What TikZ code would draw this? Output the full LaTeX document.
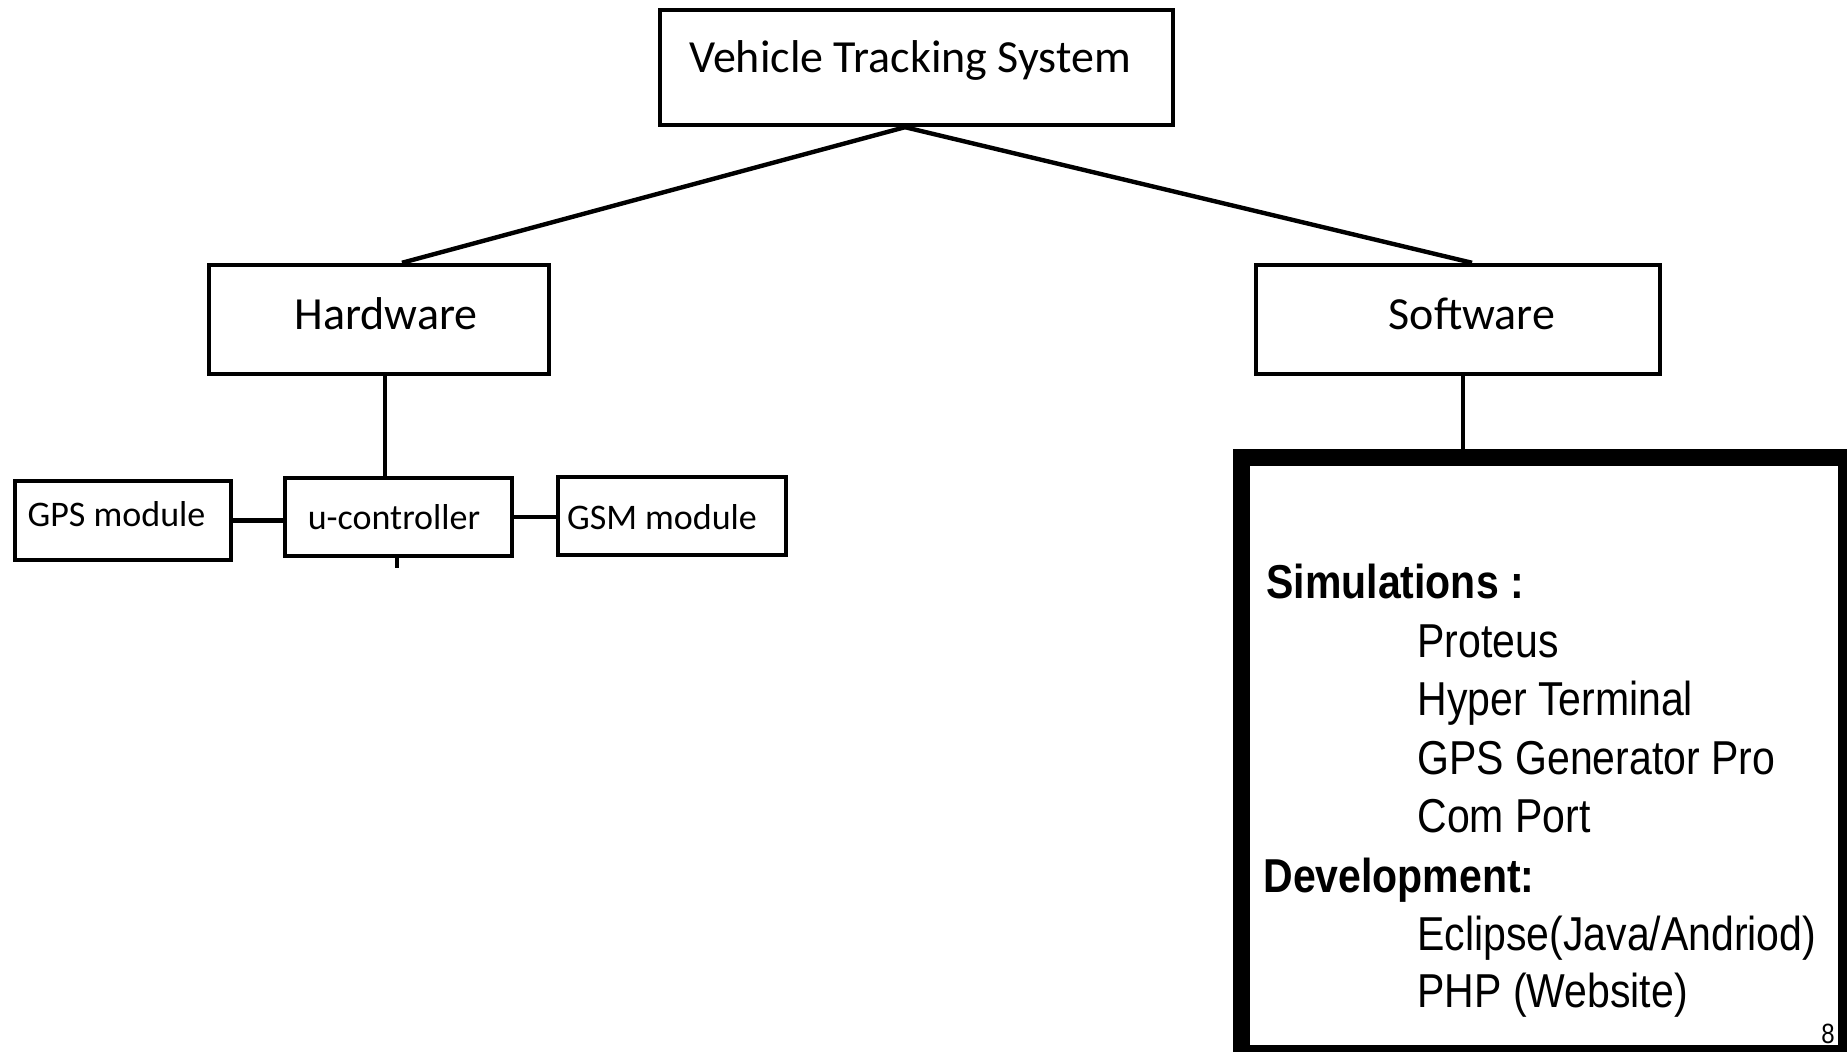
\documentclass[tikz,border=0pt]{standalone}
\usepackage{fontspec}
\newfontfamily\calfont{Carlito}
\newfontfamily\arfont{Liberation Sans}
\newcommand\vst[1]{\scalebox{1}[1.16]{#1}}
\begin{document}
\begin{tikzpicture}[x=0.5pt,y=-0.5pt,
  box/.style={draw=black, line width=2.2pt, fill=white, inner sep=0pt,
    font=\calfont\fontsize{23}{27}\selectfont},
  smallbox/.style={box, font=\calfont\fontsize{18}{22}\selectfont},
  conn/.style={draw=black, line width=2.2pt},
  bigbox/.style={draw=black, line width=8.5pt, inner sep=0pt},
  head/.style={font=\arfont\bfseries\fontsize{20.5}{24}\selectfont, inner sep=0pt, anchor=base west},
  item/.style={font=\arfont\fontsize{20.5}{24}\selectfont, inner sep=0pt, anchor=base west},
  pgnum/.style={font=\arfont\fontsize{12}{14}\selectfont, inner sep=0pt, anchor=base west},
]
\useasboundingbox (0,0) rectangle (1847,1052);
\clip (0,0) rectangle (1847,1052);
\fill[white] (0,0) rectangle (1847,1052);

% top level
\node[box, minimum width=256.5pt, minimum height=57.5pt, text height=14pt, text depth=8.5pt]
  (top) at (916.5,67.5) {Vehicle Tracking System\hspace*{6.5pt}};

% second level
\node[box, minimum width=170pt, minimum height=54.5pt, text height=15pt, text depth=4.5pt]
  (hw) at (379,319.5) {\hspace*{7pt}Hardware};
\node[box, minimum width=202pt, minimum height=54.5pt, text height=15pt, text depth=4.5pt]
  (sw) at (1458,319.5) {\hspace*{14pt}Software};

% hardware row
\node[smallbox, minimum width=108pt, minimum height=39.5pt, text height=11.5pt, text depth=5pt]
  (gps) at (123,520.5) {GPS module\hspace*{6.5pt}};
\node[smallbox, minimum width=113.5pt, minimum height=39pt, text height=13pt, text depth=0pt]
  (uc) at (398.5,517) {u-controller\hspace*{4.5pt}};
\node[smallbox, minimum width=114pt, minimum height=39pt, text height=14pt, text depth=0pt]
  (gsm) at (672,516) {GSM module\hspace*{10pt}};

% software contents
\node[head] (sim) at (1266,599) {\vst{Simulations :}};
\node[item] (s1) at (1417,658) {\vst{Proteus}};
\node[item] (s2) at (1417,716) {\vst{Hyper Terminal}};
\node[item] (s3) at (1417,775) {\vst{GPS Generator Pro}};
\node[item] (s4) at (1417,833) {\vst{Com Port}};
\node[head] (dev) at (1263,892) {\vst{Development:}};
\node[item] (d1) at (1417,950) {\vst{Eclipse(Java/Andriod)}};
\node[item] (d2) at (1417,1007) {\vst{PHP (Website)}};
\node[pgnum] (pg) at (1821,1043) {\vst{8}};

\node[bigbox, minimum width=302.5pt, minimum height=298pt] (big) at (1544,755.5) {};

% connectors
\draw[conn] ([xshift=-5.75pt]top.south) -- ([xshift=11.5pt]hw.north);
\draw[conn] ([xshift=-5.75pt]top.south) -- ([xshift=7pt]sw.north);
\draw[conn] ([xshift=3pt]hw.south) -- ([xshift=3pt]hw.south |- uc.north);
\draw[conn] ([xshift=2.5pt]sw.south) -- ([xshift=2.5pt]sw.south |- big.north);
\draw[conn] (gps.east) -- (gps.east -| uc.west);
\draw[conn] (uc.east) -- (uc.east -| gsm.west);
\coordinate (tickend) at (397,568);
\draw[conn] (uc.south -| tickend) -- (tickend);
\end{tikzpicture}
\end{document}
